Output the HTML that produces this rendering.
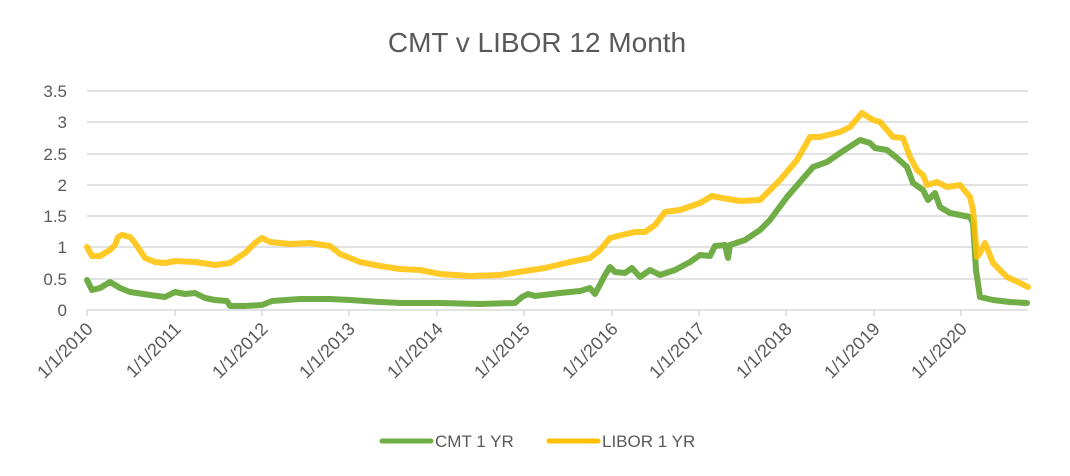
<!DOCTYPE html>
<html><head><meta charset="utf-8"><style>
html,body{margin:0;padding:0;background:#fff;}
svg{display:block;font-family:"Liberation Sans",sans-serif;}
</style></head><body>
<svg width="1070" height="476" viewBox="0 0 1070 476" xmlns="http://www.w3.org/2000/svg">
<rect width="1070" height="476" fill="#fff"/>
<text x="537" y="52" text-anchor="middle" font-size="28" fill="#595959">CMT v LIBOR 12 Month</text>
<g stroke="#d9d9d9" stroke-width="1.5">
<line x1="87" x2="1028" y1="91" y2="91"/><line x1="87" x2="1028" y1="122" y2="122"/>
<line x1="87" x2="1028" y1="154" y2="154"/><line x1="87" x2="1028" y1="185" y2="185"/>
<line x1="87" x2="1028" y1="216" y2="216"/><line x1="87" x2="1028" y1="247" y2="247"/>
<line x1="87" x2="1028" y1="279" y2="279"/><line x1="87" x2="1028" y1="310" y2="310"/>
<line x1="87" x2="87" y1="310" y2="316"/><line x1="175" x2="175" y1="310" y2="316"/>
<line x1="262" x2="262" y1="310" y2="316"/><line x1="349" x2="349" y1="310" y2="316"/>
<line x1="437" x2="437" y1="310" y2="316"/><line x1="524" x2="524" y1="310" y2="316"/>
<line x1="612" x2="612" y1="310" y2="316"/><line x1="699" x2="699" y1="310" y2="316"/>
<line x1="786" x2="786" y1="310" y2="316"/><line x1="874" x2="874" y1="310" y2="316"/>
<line x1="961" x2="961" y1="310" y2="316"/>
</g>
<g font-size="17" fill="#595959" text-anchor="end">
<text x="67" y="97">3.5</text><text x="67" y="128">3</text><text x="67" y="160">2.5</text>
<text x="67" y="191">2</text><text x="67" y="222">1.5</text><text x="67" y="253">1</text>
<text x="67" y="285">0.5</text><text x="67" y="316">0</text>
</g>
<g font-size="18" fill="#595959" text-anchor="end">
<text transform="translate(94,330) rotate(-45)">1/1/2010</text>
<text transform="translate(182,330) rotate(-45)">1/1/2011</text>
<text transform="translate(269,330) rotate(-45)">1/1/2012</text>
<text transform="translate(356,330) rotate(-45)">1/1/2013</text>
<text transform="translate(444,330) rotate(-45)">1/1/2014</text>
<text transform="translate(531,330) rotate(-45)">1/1/2015</text>
<text transform="translate(619,330) rotate(-45)">1/1/2016</text>
<text transform="translate(706,330) rotate(-45)">1/1/2017</text>
<text transform="translate(793,330) rotate(-45)">1/1/2018</text>
<text transform="translate(881,330) rotate(-45)">1/1/2019</text>
<text transform="translate(968,330) rotate(-45)">1/1/2020</text>
</g>
<polyline fill="none" stroke="#70ad47" stroke-width="6" stroke-linejoin="round" stroke-linecap="round" points="87,280 92,290 100,288 110,282 120,288 130,292 150,295 165,297 175,292 185,294 195,293 205,298 215,300 227,301 230,306 245,306 262,305 272,301 300,299 330,299 350,300 380,302 400,303 440,303 480,304 515,303 522,297 528,294 535,296 560,293 580,291 590,288 595,294 605,275 610,267 615,272 625,273 632,268 640,277 650,270 660,275 675,270 690,262 700,255 710,256 715,246 725,245 728,258 730,245 745,240 760,230 770,220 787,197 800,182 813,167 827,162 840,153 860,140 870,143 875,148 887,150 897,158 907,167 913,183 923,190 928,200 935,193 940,207 950,213 970,217 973,223 976,270 980,297 993,300 1010,302 1027,303"/>
<polyline fill="none" stroke="#ffc000" stroke-opacity="0.85" stroke-width="6" stroke-linejoin="round" stroke-linecap="round" points="87,247 92,256 100,256 110,250 115,245 118,237 122,235 130,237 135,243 145,258 155,262 165,263 175,261 195,262 215,265 230,263 245,253 255,243 262,238 270,242 290,244 310,243 330,246 340,254 350,258 360,262 380,266 400,269 420,270 440,274 470,276 500,275 525,271 545,268 570,262 590,258 600,250 610,238 622,235 635,232 645,232 655,225 665,212 680,210 700,203 712,196 722,198 740,201 760,200 780,180 797,160 810,137 820,137 840,132 850,127 862,113 873,120 880,122 893,137 903,138 910,157 917,170 923,175 927,185 937,182 947,187 960,185 970,197 973,210 977,257 980,253 985,243 993,263 1007,277 1020,283 1028,287"/>
<line x1="382" y1="441" x2="431" y2="441" stroke="#70ad47" stroke-width="5" stroke-linecap="round"/>
<text x="435" y="447" font-size="17" fill="#595959">CMT 1 YR</text>
<line x1="549" y1="441" x2="598" y2="441" stroke="#ffc000" stroke-width="5" stroke-linecap="round"/>
<text x="602" y="447" font-size="17" fill="#595959">LIBOR 1 YR</text>
</svg>
</body></html>
